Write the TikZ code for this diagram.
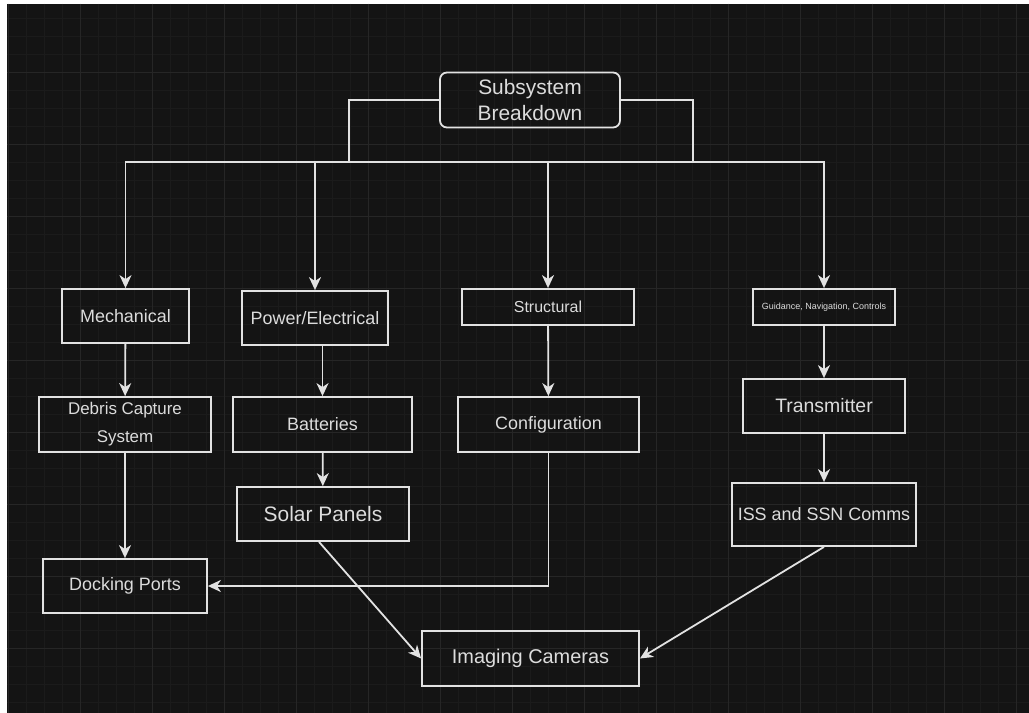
\documentclass[tikz,border=0pt]{standalone}
\usepackage{fontspec}
\setmainfont{Liberation Sans}
\usepackage{tikz}
\usetikzlibrary{arrows.meta}
\definecolor{bgdark}{HTML}{141414}
\definecolor{gridminor}{HTML}{1B1B1B}
\definecolor{gridmajor}{HTML}{262626}
\definecolor{linecol}{HTML}{E2E2E2}
\definecolor{textcol}{HTML}{DCDCDC}

\begin{document}
\begin{tikzpicture}[x=1bp, y=-1bp, >={Stealth[length=13bp, width=12bp, inset=4bp]},
	sysbox/.style={draw=linecol, line width=1.8bp, text=textcol, inner sep=0pt, align=center, font=\fontsize{18}{22}\selectfont},
	link/.style={draw=linecol, line width=1.8bp}]
	
	\useasboundingbox (0,0) rectangle (1029,713);
	\fill [white] (0,0) rectangle (1029,713);
	\fill [bgdark] (7,4) rectangle (1029,713);
	
	%grid
	\foreach \gx in {8,26,...,1029}
	  \draw [gridminor, line width=0.8bp] (\gx,4) -- (\gx,713);
	\foreach \gy in {18,36,...,713}
	  \draw [gridminor, line width=0.8bp] (7,\gy) -- (1029,\gy);
	\foreach \gx in {8,80,...,1029}
	  \draw [gridmajor, line width=0.9bp] (\gx,4) -- (\gx,713);
	\foreach \gy in {72,144,...,713}
	  \draw [gridmajor, line width=0.9bp] (7,\gy) -- (1029,\gy);
	
	\node [sysbox, rounded corners=7bp, minimum width=180bp, minimum height=55bp, font=\fontsize{21}{27}\selectfont] (root) at (530,100) {Subsystem\\Breakdown};
	
	\node [sysbox, minimum width=127bp, minimum height=54bp] (mech) at (125.5,316) {Mechanical};
	\node [sysbox, minimum width=146bp, minimum height=54bp] (power) at (315,318) {Power/Electrical};
	\node [sysbox, minimum width=172bp, minimum height=36bp, font=\fontsize{16}{19}\selectfont] (struct) at (548,307) {Structural};
	\node [sysbox, minimum width=142bp, minimum height=36bp, font=\fontsize{9}{11}\selectfont] (gnc) at (824,307) {Guidance, Navigation, Controls};
	
	\node [sysbox, minimum width=172bp, minimum height=55bp, font=\fontsize{17}{28}\selectfont] (debris) at (125,424.5) {Debris Capture\\System};
	\node [sysbox, minimum width=179bp, minimum height=55bp] (batt) at (322.5,424.5) {Batteries};
	\node [sysbox, minimum width=181bp, minimum height=55bp] (config) at (548.5,424.5) {Configuration};
	\node [sysbox, minimum width=162bp, minimum height=54bp, font=\fontsize{19.5}{23}\selectfont] (trans) at (824,406) {Transmitter};
	
	\node [sysbox, minimum width=172bp, minimum height=54bp, font=\fontsize{21}{25}\selectfont] (solar) at (323,514) {Solar Panels};
	\node [sysbox, minimum width=184bp, minimum height=63bp] (iss) at (824,514.5) {ISS and SSN Comms};
	\node [sysbox, minimum width=164bp, minimum height=54bp] (dock) at (125,586) {Docking Ports};
	\node [sysbox, minimum width=217bp, minimum height=55bp, font=\fontsize{20}{24}\selectfont] (cam) at (530.5,658.5) {Imaging Cameras};
	
	%bus
	\coordinate (bus-l) at (349,162);
	\coordinate (bus-r) at (693,162);
	\draw [link] (root.west) -| (bus-l);
	\draw [link] (root.east) -| (bus-r);
	\draw [link] (bus-l) -- (bus-r);
	\foreach \n in {mech,power}
	  \draw [link, ->] (bus-l) -| (\n);
	\foreach \n in {struct,gnc}
	  \draw [link, ->] (bus-r) -| (\n);
	
	\foreach \a/\b in {mech/debris, debris/dock, batt/solar, struct/config, gnc/trans, trans/iss}
	  \draw [link, ->] (\a) -- (\b);
	\draw [link, ->] (power.south -| batt) -- (batt);
	\draw [link, ->] (config) |- (dock);
	
	%cameras
	\draw [link, ->] ([xshift=-4bp]solar.south) -- (cam.west);
	\draw [link, ->] (iss.south) -- (cam.east);
\end{tikzpicture}
\end{document}
